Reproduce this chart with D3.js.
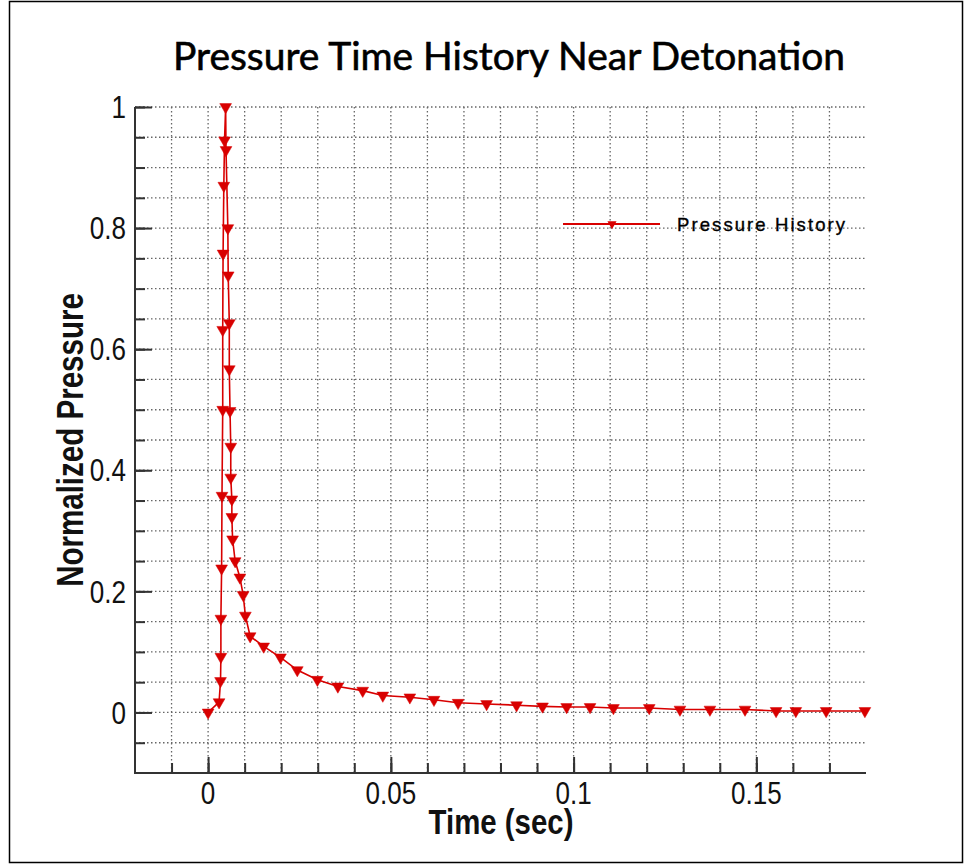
<!DOCTYPE html>
<html><head><meta charset="utf-8">
<script src="https://cdn.jsdelivr.net/npm/d3@7/dist/d3.min.js"></script>
<style>body{margin:0;background:#fff} svg{display:block}</style>
</head><body><svg id="c" width="969" height="864"></svg>
<script>
// ---- data ----
const timeValues = [
  0, 0.0030, 0.0034, 0.0035, 0.0035, 0.0037, 0.0038, 0.0040, 0.0040, 0.0041, 0.0043, 0.0045, 0.0048,
  0.0049, 0.0054, 0.0055, 0.0058, 0.0058, 0.0060, 0.0062, 0.0062, 0.0065, 0.0065, 0.0067, 0.0074,
  0.0087, 0.0096, 0.0102, 0.0115, 0.0152, 0.0198, 0.0244, 0.0299, 0.0355, 0.0423, 0.0478, 0.0552,
  0.0618, 0.0684, 0.0762, 0.0844, 0.0915, 0.0981, 0.1045, 0.1109, 0.1207, 0.1291, 0.1373, 0.1469,
  0.1554, 0.1608, 0.1691, 0.1797
];
const pressureValues = [
  0, 0.017, 0.052, 0.092, 0.155, 0.238, 0.358, 0.500, 0.632, 0.758, 0.870, 0.945, 1.0,
  0.929, 0.800, 0.722, 0.643, 0.567, 0.498, 0.439, 0.388, 0.352, 0.323, 0.286, 0.250,
  0.223, 0.194, 0.160, 0.126, 0.109, 0.091, 0.070, 0.054, 0.043, 0.036, 0.028, 0.025,
  0.021, 0.016, 0.014, 0.012, 0.010, 0.009, 0.009, 0.0074, 0.0074, 0.0048, 0.0048, 0.0048,
  0.0025, 0.0025, 0.0025, 0.0025
];
const xMajorTicks = [0, 0.05, 0.1, 0.15];
const xTickLabels = ["0", "0.05", "0.1", "0.15"];
const yMajorTicks = [0, 0.2, 0.4, 0.6, 0.8, 1];
const yTickLabels = ["0", "0.2", "0.4", "0.6", "0.8", "1"];
const xMinorTicks = [-0.01,0,0.01,0.02,0.03,0.04,0.05,0.06,0.07,0.08,0.09,0.1,0.11,0.12,0.13,0.14,0.15,0.16,0.17];
const yMinorTicks = [-0.05,0,0.05,0.1,0.15,0.2,0.25,0.3,0.35,0.4,0.45,0.5,0.55,0.6,0.65,0.7,0.75,0.8,0.85,0.9,0.95,1];
const titleText = "Pressure Time History Near Detonation";
const xLabel = "Time (sec)";
const yLabel = "Normalized Pressure";
const seriesName = "Pressure History";

// ---- layout ----
const svg = d3.select("#c");
const L = 135, R = 866, T = 107, B = 773;
const x = d3.scaleLinear().domain([-0.02, 0.18]).range([L, R]);
const y = d3.scaleLinear().domain([-0.1, 1]).range([B, T]);
const red = "#d80000";
const sans = "'Liberation Sans',Arial,sans-serif";
// emulate a narrow face by squeezing glyphs horizontally
function narrowText(sel, k) {
  sel.each(function () {
    const w = this.getComputedTextLength();
    d3.select(this).attr("textLength", w * k).attr("lengthAdjust", "spacingAndGlyphs");
  });
}

svg.append("rect").attr("width", 969).attr("height", 864).attr("fill", "#fff");
svg.append("rect").attr("x", 9.5).attr("y", 1.5).attr("width", 953).attr("height", 861)
  .attr("fill", "none").attr("stroke", "#000").attr("stroke-width", 1.5);

// grid
const grid = svg.append("g").attr("stroke", "#666").attr("stroke-width", 1.3).attr("stroke-dasharray", "1.5,2.5");
grid.selectAll(".h").data(yMinorTicks).join("line")
  .attr("x1", L).attr("x2", R).attr("y1", d => y(d)).attr("y2", d => y(d));
grid.selectAll(".v").data(xMinorTicks).join("line")
  .attr("y1", T).attr("y2", B).attr("x1", d => x(d)).attr("x2", d => x(d));

// axes
const axisColor = "#333";
const yAxisG = svg.append("g").attr("transform", `translate(${L},0)`);
yAxisG.call(d3.axisRight(y).tickValues(yMinorTicks).tickSize(10).tickFormat(""));
yAxisG.append("g").call(d3.axisRight(y).tickValues(yMajorTicks).tickSize(17).tickFormat(""));
yAxisG.selectAll(".domain").remove();
yAxisG.selectAll("line").attr("stroke", axisColor).attr("stroke-width", 2);

const xAxisG = svg.append("g").attr("transform", `translate(0,${B})`);
xAxisG.call(d3.axisTop(x).tickValues(xMinorTicks).tickSize(10).tickFormat(""));
xAxisG.append("g").call(d3.axisTop(x).tickValues(xMajorTicks).tickSize(16).tickFormat(""));
xAxisG.selectAll(".domain").remove();
xAxisG.selectAll("line").attr("stroke", axisColor).attr("stroke-width", 2);

svg.append("line").attr("x1", L).attr("x2", L).attr("y1", T).attr("y2", B)
  .attr("stroke", axisColor).attr("stroke-width", 2);
svg.append("line").attr("x1", L - 1).attr("x2", R).attr("y1", B).attr("y2", B)
  .attr("stroke", axisColor).attr("stroke-width", 2);

// tick labels
svg.append("g").selectAll("text").data(yMajorTicks).join("text")
  .attr("x", 126).attr("y", d => y(d)).attr("dy", "0.36em")
  .attr("text-anchor", "end").attr("font-family", sans).attr("font-size", 31)
  .attr("fill", "#111").text((d, i) => yTickLabels[i]).call(narrowText, 0.84);
svg.append("g").selectAll("text").data(xMajorTicks).join("text")
  .attr("x", d => x(d)).attr("y", 804)
  .attr("text-anchor", "middle").attr("font-family", sans).attr("font-size", 31)
  .attr("fill", "#111").text((d, i) => xTickLabels[i]).call(narrowText, 0.84);

// axis titles
svg.append("text").attr("x", 501).attr("y", 834).attr("text-anchor", "middle")
  .attr("font-family", sans).attr("font-weight", "bold").attr("font-size", 35)
  .attr("fill", "#111").text(xLabel).call(narrowText, 0.84);
svg.append("text").attr("transform", "translate(83,440) rotate(-90)").attr("text-anchor", "middle")
  .attr("font-family", sans).attr("font-weight", "bold").attr("font-size", 36)
  .attr("fill", "#111").text(yLabel).call(narrowText, 0.82);

// title
svg.append("text").attr("x", 509).attr("y", 70).attr("text-anchor", "middle")
  .attr("font-family", "Lato, 'Open Sans', sans-serif").attr("font-size", 39)
  .attr("stroke", "#000").attr("stroke-width", 0.6)
  .attr("textLength", 672).attr("lengthAdjust", "spacingAndGlyphs")
  .attr("fill", "#000").text(titleText);

// series
const pts = timeValues.map((t, i) => [t, pressureValues[i]]);
svg.append("path").datum(pts)
  .attr("d", d3.line().x(d => x(d[0])).y(d => y(d[1])))
  .attr("fill", "none").attr("stroke", red).attr("stroke-width", 1.6);
const tri = d3.symbol().type(d3.symbolTriangle).size(60);
svg.append("g").selectAll("path").data(pts).join("path")
  .attr("transform", d => `translate(${x(d[0])},${y(d[1])}) rotate(180)`)
  .attr("d", tri).attr("fill", red).attr("stroke", red).attr("stroke-width", 0.5);

// legend
const lg = svg.append("g");
lg.append("line").attr("x1", 563).attr("x2", 660).attr("y1", 224).attr("y2", 224)
  .attr("stroke", red).attr("stroke-width", 1.8);
lg.append("path").attr("transform", "translate(612,224) rotate(180)")
  .attr("d", d3.symbol().type(d3.symbolTriangle).size(36)).attr("fill", red);
lg.append("text").attr("x", 677).attr("y", 231).attr("font-family", sans)
  .attr("font-size", 18.5).attr("stroke", "#000").attr("stroke-width", 0.35)
  .attr("textLength", 168).attr("lengthAdjust", "spacing")
  .attr("fill", "#000").text(seriesName);
</script></body></html>
